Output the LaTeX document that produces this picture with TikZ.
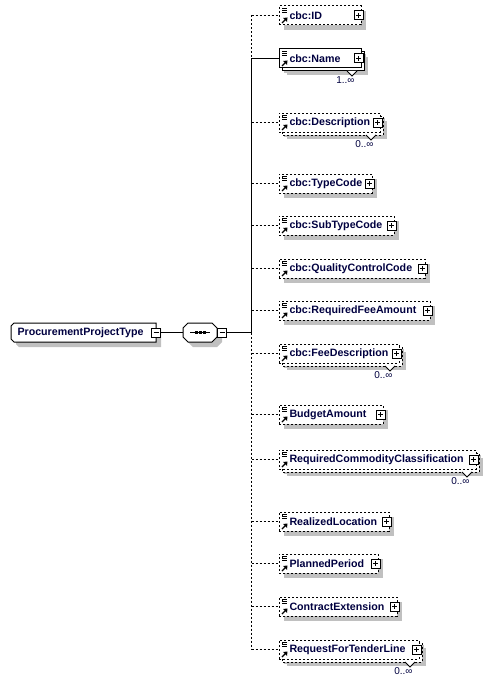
\documentclass[tikz,border=0pt]{standalone}
\usepackage{fontspec}
\setmainfont{Liberation Sans}
\definecolor{txt}{RGB}{0,0,64}
\definecolor{shd}{RGB}{192,192,192}
\tikzset{
  dsh/.style={dash pattern=on 1.5pt off 1.5pt},
  sld/.style={},
  nm/.style={anchor=west, inner sep=0pt, text=txt, font=\fontsize{8}{9}\selectfont\bfseries},
  cardtxt/.style={anchor=east, inner sep=0pt, text=txt, font=\fontsize{7.5}{9}\selectfont},
  frame/.style={draw, fill=white, anchor=north west, inner sep=0pt, outer sep=0pt},
  pm/.style={draw, fill=white, minimum size=6.75pt, inner sep=0pt, outer sep=0pt, solid},
}
% #1 name, #2 text, #3 top, #4 right, #5 style, #6 multi (0/1), #7 cardinality
\newcommand\xelem[7]{%
  \pgfmathsetmacro\bt{#3}%
  \pgfmathsetmacro\bb{#3+19}%
  \pgfmathsetmacro\br{#4}%
  \pgfmathsetmacro\bw{(#4-279)*0.75}%
  \fill[shd] (284,{\bt+5}) rectangle ({\br+5},{\bb+5});
  \ifnum#6=1
    \fill[shd] (287,{\bt+8}) rectangle ({\br+7},{\bb+7});
    \draw[#5, fill=white] (282,{\bt+3}) rectangle ({\br+3},{\bb+3});
    \draw[fill=white, solid] ({\br-14},{\bb+3}) -- ({\br-9},{\bb+8}) -- ({\br-4},{\bb+3});
    \node[cardtxt] (#1-card) at ({\br-6},{\bb+12}) {#7};
  \fi
  \node[frame, #5, minimum width=\bw pt, minimum height=14.25pt] (#1) at (279,\bt) {};
  \draw[line width=0.6pt] (283,{\bt+2.5}) -- (287,{\bt+2.5});
  \draw[line width=0.6pt] (282.5,{\bt+2}) -- (282.5,{\bt+3.5});
  \draw[line width=0.6pt] (282,{\bt+4.5}) -- (287,{\bt+4.5});
  \draw[line width=0.6pt] (282,{\bt+6.5}) -- (287,{\bt+6.5});
  \draw[line width=0.9pt] (282,{\bb-2}) -- (285.5,{\bb-5.5});
  \fill (287.5,{\bb-7.5}) -- (283.2,{\bb-7}) -- (287,{\bb-3.2}) -- cycle;
  \node[nm] (#1-t) at (289,{\bt+10}) {#2};
  \node[pm] (#1-p) at ({\br-2.5},{\bt+9.5}) {};
  \draw ({\br-5},{\bt+9.5}) -- ({\br},{\bt+9.5}) ({\br-2.5},{\bt+7}) -- ({\br-2.5},{\bt+12});
  \coordinate (j-#1) at (251.5,{\bt+9.5});
  \draw[#5] (j-#1) -- (#1.west);
}
\begin{document}
\begin{tikzpicture}[x=0.75pt,y=-0.75pt,line width=0.75pt]
\useasboundingbox[fill=white] (0,0) rectangle (493,685);

% root type
\fill[shd] (16,328) -- (161,328) -- (161,347) -- (19,347) -- (16,344) -- cycle;
\draw[fill=white] (14,323) -- (156,323) -- (156,342) -- (14,342) -- (11,339) -- (11,326) -- cycle;
\node[anchor=north west, inner sep=0pt, minimum width=108.75pt, minimum height=14.25pt] (root) at (11,323) {};
\node[nm] (root-t) at (17,333) {ProcurementProjectType};
\node[pm] (root-m) at (156,332.5) {};
\draw (153.5,332.5) -- (158.5,332.5);

% sequence
\fill[shd] (193,328) -- (217,328) -- (222,333) -- (222,342) -- (217,347) -- (193,347) -- (188,342) -- (188,333) -- cycle;
\draw[fill=white] (188,323) -- (212,323) -- (217,328) -- (217,337) -- (212,342) -- (188,342) -- (183,337) -- (183,328) -- cycle;
\node[inner sep=0pt, minimum width=25.5pt, minimum height=14.25pt] (seq) at (200,332.5) {};
\draw (190,332.5) -- (210,332.5);
\foreach \i in {196,200,204} \fill (\i-1.5,331) rectangle (\i+1.5,334);
\node[pm] (seq-m) at (222,332.5) {};
\draw (219.5,332.5) -- (224.5,332.5);
\draw (root-m.east) -- (seq.west);
\coordinate (j-seq) at (251.5,332.5);
\draw (seq-m.east) -- (j-seq);

% children
\xelem{id}{cbc:ID}{6}{361}{dsh}{0}{}
\xelem{name}{cbc:Name}{49}{361}{sld}{1}{1..∞}
\xelem{desc}{cbc:Description}{113}{380}{dsh}{1}{0..∞}
\xelem{tc}{cbc:TypeCode}{174}{372}{dsh}{0}{}
\xelem{stc}{cbc:SubTypeCode}{216}{394}{dsh}{0}{}
\xelem{qcc}{cbc:QualityControlCode}{259}{425}{dsh}{0}{}
\xelem{rfa}{cbc:RequiredFeeAmount}{301}{430}{dsh}{0}{}
\xelem{fd}{cbc:FeeDescription}{344}{399}{dsh}{1}{0..∞}
\xelem{ba}{BudgetAmount}{405}{383}{dsh}{0}{}
\xelem{rcc}{RequiredCommodityClassification}{450}{476}{dsh}{1}{0..∞}
\xelem{rl}{RealizedLocation}{512}{389}{dsh}{0}{}
\xelem{pp}{PlannedPeriod}{554}{378}{dsh}{0}{}
\xelem{ce}{ContractExtension}{597}{397}{dsh}{0}{}
\xelem{rftl}{RequestForTenderLine}{640}{419}{dsh}{1}{0..∞}

% spine
\draw[dsh] (j-id) -- (j-name);
\draw (j-name) -- (j-seq);
\draw[dsh] (j-seq) -- (j-rftl);
\end{tikzpicture}
\end{document}
